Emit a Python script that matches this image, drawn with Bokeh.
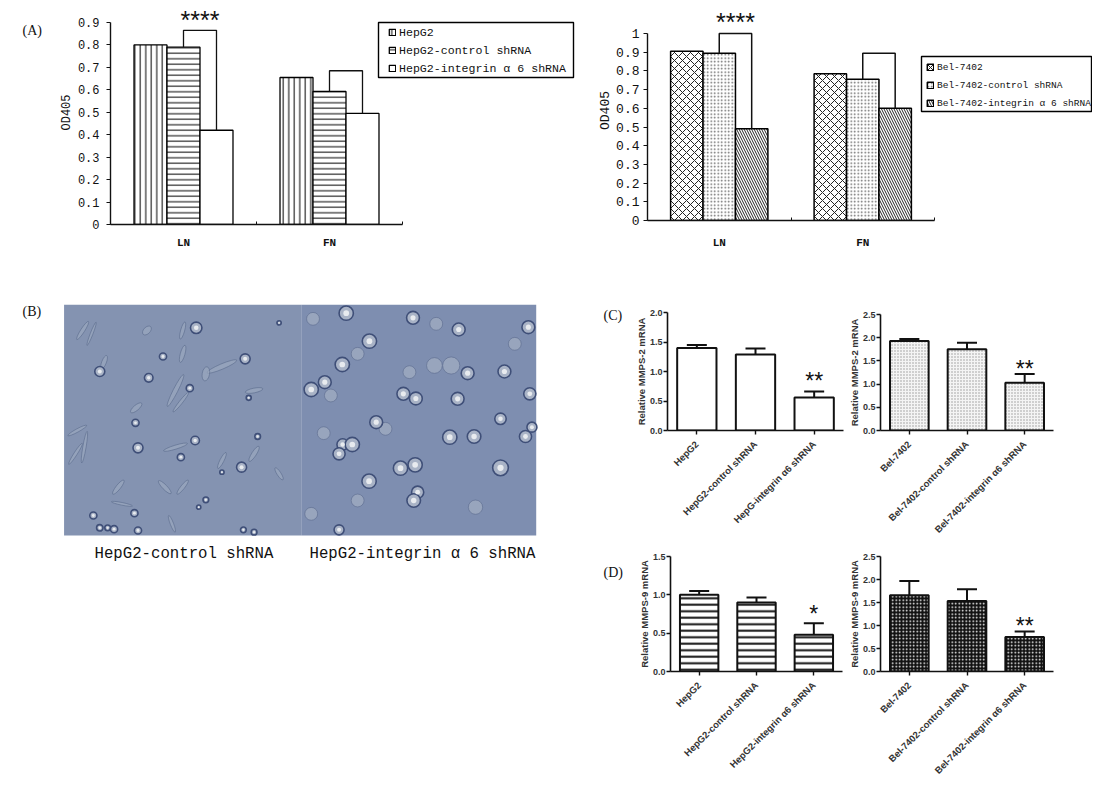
from bokeh.plotting import figure
from bokeh.layouts import column, row
from bokeh.models import (Range1d, FixedTicker, Label, Legend, LegendItem, Whisker, TeeHead,
                          ColumnDataSource)
from bokeh.embed import file_html
from bokeh.resources import INLINE
import math

MONO = "Liberation Mono"
SANS = "Liberation Sans"
SERIF = "Liberation Serif"
INK = "#111111"

# ---------- panel A data
a_groups = ["LN", "FN"]
a1_series = ["HepG2", "HepG2-control shRNA", "HepG2-integrin \u03b1 6 shRNA"]
a1_values = [[0.80, 0.655], [0.79, 0.593], [0.42, 0.495]]
a1_bracket_top = [0.865, 0.685]
a1_ticks = [0, .1, .2, .3, .4, .5, .6, .7, .8, .9]
a1_labels = ["0", "0.1", "0.2", "0.3", "0.4", "0.5", "0.6", "0.7", "0.8", "0.9"]
a2_series = ["Bel-7402", "Bel-7402-control shRNA", "Bel-7402-integrin \u03b1 6 shRNA"]
a2_values = [[0.905, 0.785], [0.895, 0.755], [0.49, 0.60]]
a2_bracket_top = [1.0, 0.895]
a2_ticks = [0, .1, .2, .3, .4, .5, .6, .7, .8, .9, 1]
a2_labels = ["0", "0.1", "0.2", "0.3", "0.4", "0.5", "0.6", "0.7", "0.8", "0.9", "1"]

# ---------- panels C and D data
c1_cats = ["HepG2", "HepG2-control shRNA", "HepG-integrin \u03b16 shRNA"]
c1_vals = [1.40, 1.29, 0.56]
c1_upper = [1.45, 1.39, 0.66]
c2_cats = ["Bel-7402", "Bel-7402-control shRNA", "Bel-7402-integrin \u03b16 shRNA"]
c2_vals = [1.93, 1.75, 1.03]
c2_upper = [1.97, 1.89, 1.22]
d1_cats = ["HepG2", "HepG2-control shRNA", "HepG2-integrin \u03b16 shRNA"]
d1_vals = [1.00, 0.90, 0.48]
d1_upper = [1.05, 0.965, 0.63]
d2_cats = ["Bel-7402", "Bel-7402-control shRNA", "Bel-7402-integrin \u03b16 shRNA"]
d2_vals = [1.66, 1.53, 0.75]
d2_upper = [1.97, 1.79, 0.87]
ticks_20 = [0, 0.5, 1.0, 1.5, 2.0]
ticks_25 = [0, 0.5, 1.0, 1.5, 2.0, 2.5]
ticks_15 = [0, 0.5, 1.0, 1.5]

# ---------- panel B: things (x, y, radius)
right_round = [(968,68,20),(1155,82,18),(1283,117,18),(1478,110,18),(1033,152,20),(957,222,20),
               (1308,248,18),(1411,243,18),(908,275,18),(870,297,20),(1128,310,18),(1163,324,18),
               (1280,325,18),(1482,310,17),(1400,385,16),(1052,395,18),(1258,440,20),(1326,438,19),
               (1470,438,17),(1488,410,14),(958,462,16),(985,462,20),(948,490,17),(1120,533,20),
               (1161,523,20),(1400,532,22),(1032,572,20),(1168,605,17),(1157,630,19),(948,718,14)]
right_pale = [(1215,225,22),(1262,225,24),(1000,190,18),(875,85,18),(1220,100,18),(1440,160,18),
              (1145,245,18),(925,315,18),(1078,415,18),(905,428,18),(1000,630,18),(1330,650,20),
              (870,670,18)]
left_round = [(548,112,16),(685,205,14),(455,198,10),(530,293,10),(415,262,12),(278,243,14),
              (378,397,10),(385,472,14),(545,450,12),(675,530,14),(505,500,10),(720,438,8),
              (260,675,10),(375,668,10),(278,712,9),(300,712,8),(318,716,10),(385,720,10),
              (575,628,8),(555,650,6),(695,322,7),(780,97,6),(620,545,6),(680,718,8),(710,725,8)]
left_long = [(230,120,60,12,1.0),(255,130,70,8,1.2),(490,300,100,14,1.1),(505,335,70,10,0.9),
             (380,352,40,16,0.7),(215,420,60,10,0.5),(235,470,90,10,1.4),(210,490,70,10,1.0),
             (620,228,90,16,0.4),(490,470,70,12,0.3),(710,490,50,14,1.0),(620,510,50,12,1.1),
             (780,550,40,12,-1.0),(330,590,50,14,0.9),(510,590,50,12,0.9),(510,190,50,14,1.3),
             (510,120,50,12,1.3),(290,215,40,14,1.2),(710,300,50,14,0.2),(460,590,50,14,-0.8),
             (340,640,60,8,-0.2),(480,700,50,10,-1.2),(575,250,40,22,1.4),(410,120,30,20,0.8)]
bg_x = [178, 842]
bg_r = [842, 1500]
bg_colors = ["#8493b1", "#7e8eb0"]
cap_b = ["HepG2-control shRNA", "HepG2-integrin \u03b1 6 shRNA"]


def fig(w, h, l, r, t, b, xr, yr, **kw):
    p = figure(width=w, height=h, x_range=xr, y_range=yr, toolbar_location=None,
               output_backend="svg", min_border_left=l, min_border_right=r,
               min_border_top=t, min_border_bottom=b, outline_line_color=None,
               background_fill_color="white", border_fill_color="white",
               frame_align=False, **kw)
    p.grid.visible = False
    return p


def panel_a(w, h, left, frame_w, bottom, cat_w, unit_h, ymax, ticks, labels, series, values, tops,
            styles, legend_at, box, leg_size, lab_size, standoff, lab_standoff, x_standoff, lw, star_off):
    frame_h = h - bottom
    p = fig(w, h, left, 0, 0, bottom, Range1d(0, frame_w / cat_w), Range1d(0, frame_h / unit_h))
    bw = 0.226
    rend = []
    for i, (vals, st) in enumerate(zip(values, styles)):
        xs = [c + 0.5 + (i - 1) * bw for c in range(2)]
        rend.append(p.vbar(x=xs, top=vals, width=bw, bottom=0, line_color="black",
                           line_width=lw, **st))
    for g in range(2):
        c = g + 0.5
        p.line([c, c, c + bw, c + bw],
               [values[1][g], tops[g], tops[g], values[2][g]], line_color=INK, line_width=lw)
    ax = p.xaxis[0]
    ax.bounds = (0, 2)
    ax.ticker = FixedTicker(ticks=[0.5, 1.5], minor_ticks=[0, 1, 2])
    ax.major_label_overrides = {0.5: a_groups[0], 1.5: a_groups[1]}
    ax.major_tick_line_color = None
    ax.minor_tick_in = 3
    ax.minor_tick_out = 0
    ax.minor_tick_line_color = INK
    ax.axis_line_width = 1.4
    ax.axis_line_color = INK
    ax.major_label_text_font = MONO
    ax.major_label_text_font_size = "11px"
    ax.major_label_text_font_style = "bold"
    ax.major_label_standoff = x_standoff
    ax.major_label_text_color = INK
    ay = p.yaxis[0]
    ay.bounds = (0, ymax)
    ay.ticker = FixedTicker(ticks=ticks)
    ay.major_label_overrides = dict(zip(ticks, labels))
    ay.minor_tick_line_color = None
    ay.major_tick_in = 0
    ay.major_tick_out = 4
    ay.major_tick_line_color = INK
    ay.axis_line_width = 1.4
    ay.axis_line_color = INK
    ay.major_label_text_font = MONO
    ay.major_label_text_font_size = lab_size
    ay.major_label_text_color = INK
    ay.major_label_standoff = lab_standoff
    ay.axis_label = "OD405"
    ay.axis_label_text_font = MONO
    ay.axis_label_text_font_style = "normal"
    ay.axis_label_text_font_size = lab_size
    ay.axis_label_text_color = INK
    ay.axis_label_standoff = standoff
    # legend frame, given in picture pixels from the frame's lower left corner
    p.quad(left=[box[0] / cat_w], right=[box[1] / cat_w], bottom=[box[2] / unit_h], top=[box[3] / unit_h],
           fill_color="white", line_color="black", line_width=1.4)
    items = [LegendItem(label=s, renderers=[r_]) for s, r_ in zip(series, rend)]
    leg = Legend(items=items, location=legend_at, glyph_width=8, glyph_height=8, label_standoff=3,
                 spacing=4, padding=0, margin=0, border_line_color=None,
                 background_fill_alpha=0,
                 label_text_font=MONO, label_text_font_size=leg_size, label_text_color=INK,
                 label_height=14)
    p.add_layout(leg)
    p.add_layout(Label(x=0.5 + bw / 2, y=tops[0], y_offset=star_off, text="****", text_font=SANS,
                       text_font_size="25px", text_align="center", text_baseline="middle",
                       text_color=INK))
    return p


def panel_bar(w, h, l, r, t, b, ymax, ticks, cats, vals, upper, ylabel, stars, star_gap, st):
    p = fig(w, h, l, r, t, b, Range1d(0, 3), Range1d(0, ymax))
    xs = [0.5, 1.5, 2.5]
    src = ColumnDataSource(dict(x=xs, top=vals, up=upper))
    p.add_layout(Whisker(base="x", upper="up", lower="top", source=src, dimension="height",
                         line_width=2, line_color=INK,
                         upper_head=TeeHead(size=20, line_width=2, line_color=INK), lower_head=None))
    p.vbar(x="x", top="top", width=0.67, bottom=0, source=src, line_color=INK, line_width=2, **st)
    ax = p.xaxis[0]
    ax.ticker = FixedTicker(ticks=xs)
    ax.major_label_overrides = dict(zip(xs, cats))
    ax.major_label_orientation = math.pi / 4
    ax.major_label_text_font = SANS
    ax.major_label_text_font_size = "9.5px"
    ax.major_label_text_font_style = "bold"
    ax.major_label_text_color = "#333333"
    ax.major_label_standoff = 8
    ax.major_tick_in = 0
    ax.major_tick_out = 4
    ax.minor_tick_line_color = None
    ax.axis_line_width = 1.6
    ax.axis_line_color = INK
    ax.major_tick_line_width = 1.4
    ax.major_tick_line_color = INK
    ay = p.yaxis[0]
    ay.ticker = FixedTicker(ticks=ticks)
    ay.major_label_overrides = {v: f"{v:.1f}" for v in ticks}
    ay.minor_tick_line_color = None
    ay.major_tick_in = 0
    ay.major_tick_out = 4
    ay.major_tick_line_color = INK
    ay.major_tick_line_width = 1.4
    ay.axis_line_width = 1.6
    ay.axis_line_color = INK
    ay.major_label_text_font = SANS
    ay.major_label_text_font_size = "9px"
    ay.major_label_text_font_style = "bold"
    ay.major_label_text_color = "#333333"
    ay.major_label_standoff = 1
    ay.axis_label = ylabel
    ay.axis_label_text_font = SANS
    ay.axis_label_text_font_style = "bold"
    ay.axis_label_text_font_size = "9.5px"
    ay.axis_label_text_color = "#333333"
    ay.axis_label_standoff = 0
    p.add_layout(Label(x=2.5, y=upper[2], y_offset=star_gap, text=stars, text_font=SANS,
                       text_font_size="23px", text_align="center", text_baseline="middle",
                       text_color=INK))
    return p


# ---- Panel A
a1_styles = [dict(fill_color="white", hatch_pattern="vertical_line", hatch_color="black", hatch_scale=5.5, hatch_weight=1),
             dict(fill_color="white", hatch_pattern="horizontal_line", hatch_color="black", hatch_scale=5.5, hatch_weight=1),
             dict(fill_color="white")]
a2_styles = [dict(fill_color="white", hatch_pattern="diagonal_cross", hatch_color="#222222", hatch_scale=8, hatch_weight=1),
             dict(fill_color="white", hatch_pattern="dot", hatch_color="#666666", hatch_scale=3.5, hatch_weight=0.7),
             dict(fill_color="white", hatch_pattern="left_diagonal_line", hatch_color="#222222", hatch_scale=5, hatch_weight=1)]

a_lab = figure(width=54, height=268, x_range=Range1d(0, 54), y_range=Range1d(268, 0),
               toolbar_location=None, output_backend="svg", x_axis_location=None, y_axis_location=None,
               min_border=0, outline_line_color=None, frame_align=False)
a_lab.grid.visible = False
a_lab.add_layout(Label(x=22, y=30, text="(A)", text_font=SERIF, text_font_size="14px",
                       text_baseline="middle", text_color=INK))

a1 = panel_a(536, 268, 56, 480, 44, 146, 224.444, 0.9, a1_ticks, a1_labels, a1_series, a1_values,
             a1_bracket_top, a1_styles, (278, 149), (268, 463, 147, 202), "11.6px", "12px", 1, 7, 6, 1.3, 10)
a2 = panel_a(502, 268, 57, 445, 48, 143.5, 187, 1.0, a2_ticks, a2_labels, a2_series, a2_values,
             a2_bracket_top, a2_styles, (279, 110), (274, 444, 109, 164), "9.5px", "13px", 0, 4, 10, 1.5, 12)

# ---- Panel B (whole left block; also carries the (C), (D) tags)
b = fig(627, 509, 0, 0, 0, 0, Range1d(0, 627 * 2.8), Range1d(1461, -66),
        x_axis_location=None, y_axis_location=None)
b.quad(left=bg_x, right=bg_r, top=[43, 43], bottom=[735, 735], fill_color=bg_colors, line_color=None)
b.ellipse(x=[c[0] for c in left_long], y=[c[1] for c in left_long],
          width=[c[2] for c in left_long], height=[c[3] for c in left_long],
          angle=[c[4] for c in left_long], fill_color="#a3aec2", fill_alpha=0.55,
          line_color="#5a6a8c", line_alpha=0.6, line_width=1)
b.scatter(x=[c[0] for c in right_pale], y=[c[1] for c in right_pale], marker="circle",
          size=[c[2] / 1.4 for c in right_pale], fill_color="#9fabc1", fill_alpha=0.8,
          line_color="#5c6b8d", line_alpha=0.6, line_width=1)
for cells in (left_round, right_round):
    b.scatter(x=[c[0] for c in cells], y=[c[1] for c in cells], marker="circle",
              size=[c[2] / 1.4 for c in cells], fill_color="#a9b3c6", line_color="#3f4f78",
              line_width=1.6)
    b.scatter(x=[c[0] for c in cells], y=[c[1] for c in cells], marker="circle",
              size=[c[2] / 3.5 for c in cells], fill_color="#e8ebef", line_color=None)


def tag(px, py, text, font=SERIF, size="14px"):
    b.add_layout(Label(x=px * 2.8, y=(py - 290) * 3, text=text, text_font=font, text_font_size=size,
                       text_baseline="middle", text_color=INK))


tag(22, 311, "(B)")
tag(94, 553, cap_b[0], MONO, "15.7px")
tag(309, 553, cap_b[1], MONO, "15.7px")
tag(603, 315, "(C)")
tag(603, 572, "(D)")

# ---- Panels C and D
hatch_c1 = dict(fill_color="white")
hatch_c2 = dict(fill_color="#f4f4f4", hatch_pattern="dot", hatch_color="#999999", hatch_scale=3, hatch_weight=0.8)
hatch_d1 = dict(fill_color="white", hatch_pattern="horizontal_line", hatch_color="#111111", hatch_scale=6.5, hatch_weight=2)
hatch_d2 = dict(fill_color="#111111", hatch_pattern="dot", hatch_color="white", hatch_scale=3.5, hatch_weight=1.6)

c1 = panel_bar(218, 274, 40, 2, 44, 112, 2.0, ticks_20, c1_cats, c1_vals, c1_upper, "Relative MMPS-2 mRNA", "**", 11, hatch_c1)
c2 = panel_bar(247, 274, 33, 39, 46, 112, 2.5, ticks_25, c2_cats, c2_vals, c2_upper, "Relative MMPS-2 mRNA", "**", 5, hatch_c2)
d1 = panel_bar(218, 241, 43, 3, 14, 112, 1.5, ticks_15, d1_cats, d1_vals, d1_upper, "Relative MMPS-9 mRNA", "*", 9, hatch_d1)
d2 = panel_bar(247, 241, 35, 39, 14, 112, 2.5, ticks_25, d2_cats, d2_vals, d2_upper, "Relative MMPS-9 mRNA", "**", 5, hatch_d2)

page = column(row(a_lab, a1, a2), row(b, column(row(c1, c2), row(d1, d2))))
open("out.html", "w").write(file_html(page, INLINE))
